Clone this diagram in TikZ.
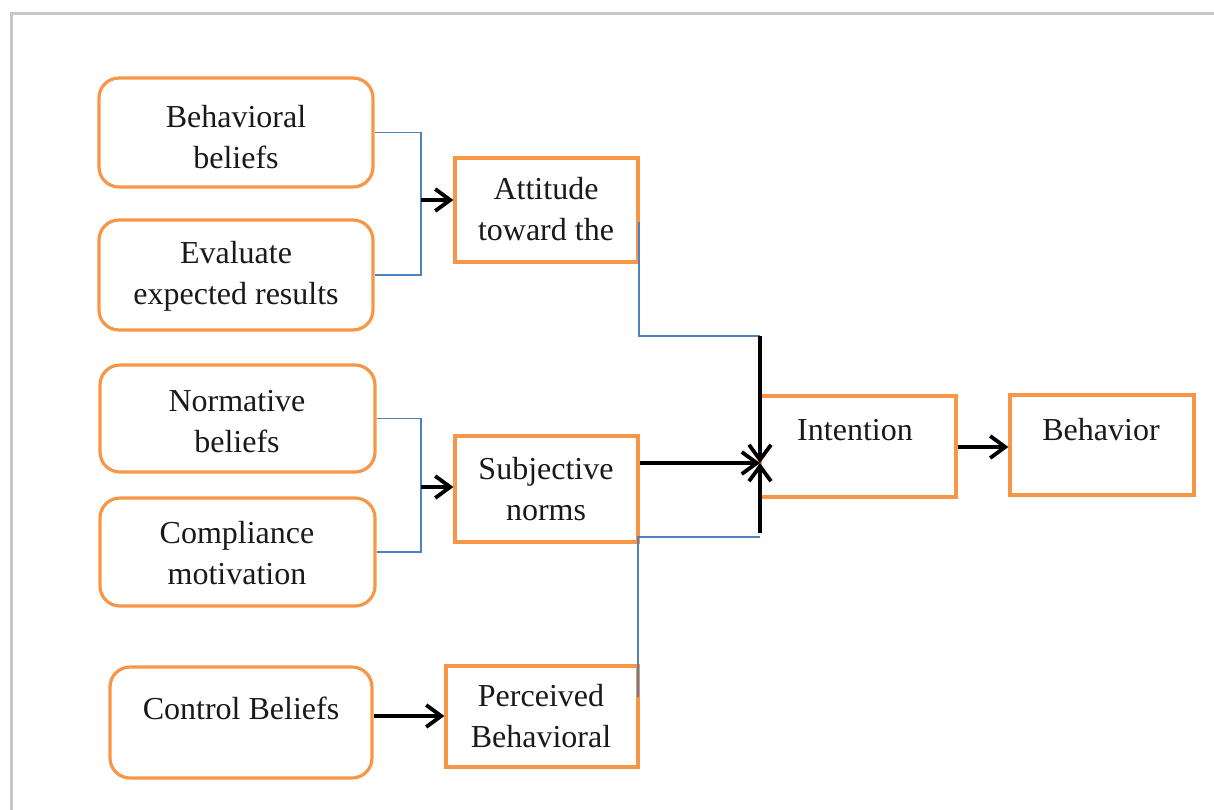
\documentclass[tikz,border=0pt]{standalone}
\usepackage{fontspec}
\setmainfont{Liberation Serif}
\usetikzlibrary{arrows.meta}
\definecolor{boxorange}{HTML}{F79646}
\definecolor{lineblue}{HTML}{4F81BD}
\begin{document}
\begin{tikzpicture}[x=0.5pt,y=-0.5pt,
  rbox/.style={draw=boxorange,line width=1.6pt,rounded corners=10pt,inner sep=0pt},
  sbox/.style={draw=boxorange,line width=1.6pt,inner sep=0pt},
  lbl/.style={font=\fontsize{16pt}{20.5pt}\selectfont,align=center,inner sep=0pt,text=black!90},
  bline/.style={draw=lineblue,line width=0.8pt},
  karrow/.style={draw=black,line width=1.9pt,-{Straight Barb[length=7.5pt,width=11pt,line width=1.9pt]}},
  kline/.style={draw=black,line width=1.9pt}]
\useasboundingbox (0,0) rectangle (1214,809);
\draw[gray!45,line width=1.5pt] (11,815) -- (11,13) -- (1220,13);
% left rounded boxes
\node[rbox,minimum width=137pt,minimum height=54.5pt] (b1) at (236,132.5) {};
\node[rbox,minimum width=137pt,minimum height=55pt] (b2) at (236,275) {};
\node[rbox,minimum width=137.5pt,minimum height=53.5pt] (b3) at (237.5,418.5) {};
\node[rbox,minimum width=137.5pt,minimum height=54pt] (b4) at (237.5,552) {};
\node[rbox,minimum width=131pt,minimum height=55.5pt] (b5) at (241,722.5) {};
% middle boxes
\node[sbox,minimum width=91.5pt,minimum height=52pt] (att) at (546.5,210) {};
\node[sbox,minimum width=91.5pt,minimum height=53pt] (sub) at (546.5,489) {};
\node[sbox,minimum width=96pt,minimum height=50.5pt] (per) at (542,716.5) {};
\node[sbox,minimum width=98pt,minimum height=50.5pt] (int) at (858,446.5) {};
\node[sbox,minimum width=92pt,minimum height=50pt] (beh) at (1102,445) {};
% texts
\node[lbl] (t1) at (236,137) {Behavioral\\beliefs};
\node[lbl] (t2) at (236,276) {Evaluate\\expected results};
\node[lbl] (t3) at (237,421.5) {Normative\\beliefs};
\node[lbl] (t4) at (237,553) {Compliance\\motivation};
\node[lbl] (t5) at (241,708) {Control Beliefs};
\node[lbl] (t6) at (546,209.5) {Attitude\\toward the};
\node[lbl] (t7) at (546,489) {Subjective\\norms};
\node[lbl] (t8) at (541,716) {Perceived\\Behavioral};
\node[lbl] (t9) at (855,430) {Intention};
\node[lbl] (t10) at (1101,430) {Behavior};
% junction coordinates
\coordinate (j1) at (421,200);
\coordinate (j2) at (421,487);
\coordinate (m) at (760,463);
\coordinate (ta) at (760,336);
\coordinate (tb) at (760,537);
\coordinate (ae) at (639,222);
\coordinate (pe) at (638,697);
% blue brackets
\draw[bline] (b1.east) -| (j1) |- (b2.east);
\draw[bline] (b3.east) -| (j2) |- (b4.east);
\draw[bline] (ae) |- (ta);
\draw[bline] (pe) |- (tb);
% black arrows
\draw[karrow] (j1) -- (att.west |- j1);
\draw[karrow] (j2) -- (sub.west |- j2);
\draw[karrow] (b5.east |- 0,716) -- (per.west |- 0,716);
\draw[karrow] (ta) -- (m);
\draw[karrow] (760,533) -- (m);
\draw[karrow] (sub.east |- m) -- (m);
\draw[karrow] (int.east |- 0,447) -- (beh.west |- 0,447);
\end{tikzpicture}
\end{document}
